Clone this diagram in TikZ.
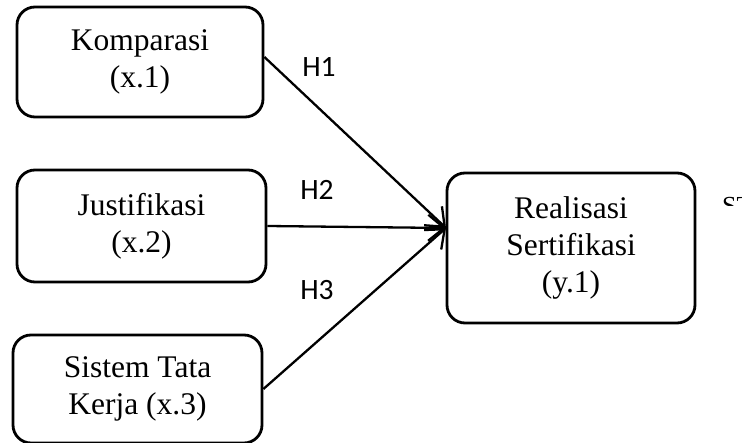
\documentclass[tikz,border=0pt]{standalone}
\usepackage{fontspec}
\setmainfont{Liberation Serif}
\newfontfamily\labfont{Carlito}
\usetikzlibrary{arrows.meta,calc}
\begin{document}
\begin{tikzpicture}[x=1pt,y=-1pt,
  box/.style={draw, line width=2.8pt, rounded corners=18pt, align=center,
    font=\fontsize{31.5}{37}\selectfont, inner sep=0pt},
  conn/.style={line width=2.3pt, -{Straight Barb[length=16pt,width=26pt,line width=2.3pt]}},
  hlab/.style={font=\labfont\fontsize{29.5}{30}\selectfont, inner sep=0pt}]
\useasboundingbox (0,0) rectangle (742,443);
\node[box, minimum width=246, minimum height=110] (k) at (140,62) {Komparasi\\(x.1)};
\node[box, minimum width=249, minimum height=112] (j) at (141.5,226) {Justifikasi\\(x.2)};
\node[box, minimum width=249, minimum height=108] (s) at (137.5,389) {Sistem Tata\\Kerja (x.3)};
\node[box, minimum width=248, minimum height=150] (r) at (571,248) {Realisasi\\Sertifikasi\\(y.1)};
\coordinate (tip) at (446,228);
\draw[conn] ([yshift=5pt]k.east) -- (tip);
\draw[conn] (j.east) -- (tip);
\draw[conn] (s.east) -- (tip);
\node[hlab] (h1) at (319,67) {H1};
\node[hlab] (h2) at (317,190) {H2};
\node[hlab] (h3) at (317,290) {H3};
\begin{scope}
\clip (715,190) rectangle (742,206);
\node[font=\fontsize{26}{28}\selectfont, anchor=north west, inner sep=0pt] (st) at (722,197) {ST};
\end{scope}
\end{tikzpicture}
\end{document}
